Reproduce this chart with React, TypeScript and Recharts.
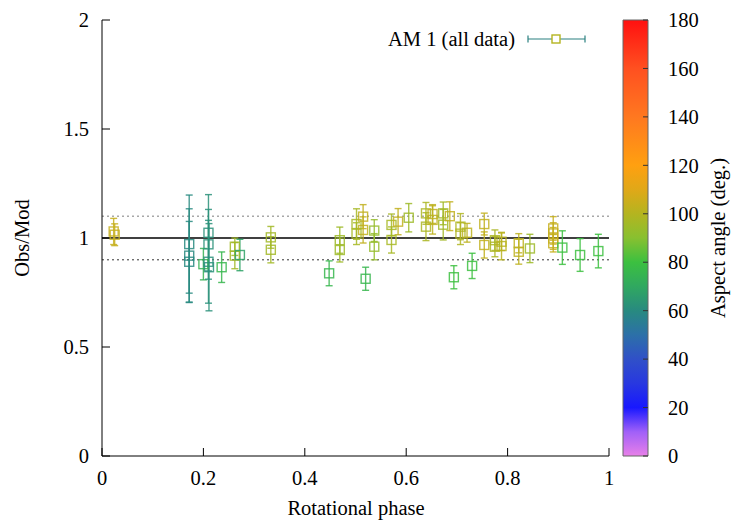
import React from "react"
import {
  ScatterChart,
  Scatter,
  XAxis,
  YAxis,
  ErrorBar,
  ReferenceLine,
  BarChart,
  Bar,
  Legend,
} from "recharts"

const FONT = "Liberation Serif"
const FS = 20.5

// rotational phase, Obs/Mod ratio, 1-sigma error, aspect angle (deg.)
const phase = [
  0.023, 0.025, 0.172, 0.172, 0.172, 0.2, 0.21, 0.21, 0.21, 0.211, 0.236, 0.262,
  0.262, 0.272, 0.333, 0.333, 0.448, 0.469, 0.469, 0.502, 0.502, 0.515, 0.515,
  0.52, 0.537, 0.537, 0.571, 0.571, 0.584, 0.605, 0.639, 0.639, 0.652, 0.652,
  0.673, 0.673, 0.686, 0.694, 0.707, 0.707, 0.72, 0.73, 0.754, 0.754, 0.775,
  0.775, 0.788, 0.788, 0.822, 0.822, 0.844, 0.89, 0.89, 0.89, 0.89, 0.908,
  0.943, 0.979,
]
const ratio = [
  1.03, 1.015, 0.972, 0.919, 0.891, 0.88, 1.024, 0.971, 0.891, 0.866, 0.866, 0.96,
  0.919, 0.922, 1.003, 0.946, 0.838, 0.99, 0.945, 1.064, 1.02, 1.098, 1.037,
  0.813, 1.034, 0.96, 1.06, 0.991, 1.075, 1.093, 1.113, 1.052, 1.11, 1.083,
  1.113, 1.061, 1.1, 0.82, 1.052, 1.02, 1.024, 0.872, 1.064, 0.968, 0.99,
  0.96, 0.983, 0.963, 0.976, 0.937, 0.952, 1.044, 1.021, 0.998, 0.976, 0.956,
  0.922, 0.94,
]
const err = [
  0.06, 0.05, 0.225, 0.215, 0.185, 0.072, 0.175, 0.16, 0.19, 0.2, 0.07, 0.04,
  0.06, 0.072, 0.05, 0.06, 0.057, 0.06, 0.055, 0.07, 0.05, 0.055, 0.06,
  0.053, 0.05, 0.06, 0.05, 0.06, 0.06, 0.065, 0.05, 0.064, 0.043, 0.065,
  0.052, 0.07, 0.066, 0.053, 0.06, 0.05, 0.043, 0.058, 0.05, 0.06, 0.047,
  0.046, 0.04, 0.063, 0.044, 0.057, 0.065, 0.054, 0.049, 0.05, 0.04, 0.077,
  0.075, 0.077,
]
const aspect = [
  104, 104, 60, 60, 60, 74, 62, 62, 62, 62, 76, 96,
  96, 68, 96, 96, 76, 95, 95, 97, 97, 103, 103,
  76, 93, 93, 97, 97, 103, 95, 98, 98, 102, 102,
  96, 96, 103, 80, 99, 99, 102, 80, 103, 103, 98,
  98, 101, 101, 102, 102, 95, 104, 104, 104, 104, 80,
  80, 80,
]

const xTicks = [0, 0.2, 0.4, 0.6, 0.8, 1]
const yTicks = [0, 0.5, 1, 1.5, 2]
const cbTicks = [0, 20, 40, 60, 80, 100, 120, 140, 160, 180]

// colour palette of the aspect-angle bar
const cbStops: [number, string][] = [
  [0, "#e880e8"],
  [10, "#a060f8"],
  [20, "#1818ff"],
  [30, "#2838e0"],
  [40, "#3050c8"],
  [50, "#2c70a8"],
  [60, "#288a80"],
  [70, "#30a860"],
  [80, "#3cc040"],
  [90, "#88c030"],
  [100, "#b4b420"],
  [110, "#e0a818"],
  [120, "#ffa010"],
  [140, "#ff7820"],
  [160, "#ff5020"],
  [180, "#ff1010"],
]

function hex(c: string) {
  return [1, 3, 5].map((i) => parseInt(c.slice(i, i + 2), 16))
}

function aspectColor(a: number) {
  for (let i = 1; i < cbStops.length; i++) {
    const [v0, c0] = cbStops[i - 1]
    const [v1, c1] = cbStops[i]
    if (a <= v1) {
      const t = (a - v0) / (v1 - v0)
      const p = hex(c0)
      const q = hex(c1)
      const m = p.map((v, k) => Math.round(v + (q[k] - v) * t))
      return `rgb(${m[0]},${m[1]},${m[2]})`
    }
  }
  return cbStops[cbStops.length - 1][1]
}

const points = phase.map((x, i) => ({ x, y: ratio[i], err: err[i], a: aspect[i] }))
const groups = Array.from(new Set(aspect)).map((a) => ({
  a,
  color: aspectColor(a),
  data: points.filter((d) => d.a === a),
}))

const tickStyle = { fill: "#000", fontSize: FS, fontFamily: FONT, style: { fontFamily: FONT } }

function LegendBox() {
  return (
    <svg width={240} height={30} style={{ display: "block" }}>
      <text x={135} y={21} textAnchor="end" fontSize={FS} fontFamily={FONT} fill="#000">
        AM 1 (all data)
      </text>
      <line x1={148} y1={14} x2={205} y2={14} stroke="#2a8080" strokeWidth={1.2} />
      <line x1={148} y1={10.5} x2={148} y2={17.5} stroke="#2a8080" strokeWidth={1.2} />
      <line x1={205} y1={10.5} x2={205} y2={17.5} stroke="#2a8080" strokeWidth={1.2} />
      <rect x={172} y={10} width={8} height={8} fill="#fff" stroke="#b4b420" strokeWidth={1.4} />
    </svg>
  )
}

function Title({ x, y, angle, children }: { x: number; y: number; angle?: number; children: string }) {
  return (
    <text
      x={x}
      y={y}
      transform={angle ? `rotate(${angle}, ${x}, ${y})` : undefined}
      textAnchor="middle"
      dominantBaseline="central"
      fontSize={FS}
      fontFamily={FONT}
      style={{ fontFamily: FONT }}
      fill="#000"
    >
      {children}
    </text>
  )
}

export default function App() {
  return (
    <div style={{ position: "absolute", left: 0, top: 0, width: 747, height: 523, background: "#fff", fontFamily: FONT }}>
      <div style={{ position: "absolute", left: 0, top: 0 }}>
        <ScatterChart
          width={747}
          height={523}
          margin={{ top: 20, right: 138, bottom: 27, left: 42 }}
        >
          <XAxis
            type="number"
            dataKey="x"
            domain={[0, 1]}
            ticks={xTicks}
            height={40}
            tickSize={-8}
            tickMargin={22}
            tick={tickStyle}
            axisLine={{ stroke: "#000" }}
            tickLine={{ stroke: "#000" }}
            label={() => <Title x={356} y={508}>Rotational phase</Title>}
          />
          <XAxis
            xAxisId="top"
            type="number"
            orientation="top"
            domain={[0, 1]}
            ticks={xTicks}
            height={0}
            tickSize={-8}
            tick={false}
            axisLine={{ stroke: "#000" }}
            tickLine={{ stroke: "#000" }}
          />
          <YAxis
            type="number"
            dataKey="y"
            domain={[0, 2]}
            ticks={yTicks}
            width={60}
            tickSize={-8}
            tickMargin={21}
            tick={tickStyle}
            axisLine={{ stroke: "#000" }}
            tickLine={{ stroke: "#000" }}
            label={() => <Title x={22} y={238} angle={-90}>Obs/Mod</Title>}
          />
          <YAxis
            yAxisId="right"
            type="number"
            orientation="right"
            domain={[0, 2]}
            ticks={yTicks}
            width={0}
            tickSize={-8}
            tick={false}
            axisLine={{ stroke: "#000" }}
            tickLine={{ stroke: "#000" }}
          />
          <ReferenceLine y={1.1} stroke="#a8a8a8" strokeWidth={1.6} strokeDasharray="2 3" />
          <ReferenceLine y={0.9} stroke="#333" strokeWidth={1} strokeDasharray="2 3" />
          <ReferenceLine y={1} stroke="#000" strokeWidth={1.3} />
          <Legend
            layout="horizontal"
            verticalAlign="middle"
            align="center"
            wrapperStyle={{ position: "absolute", left: 380, top: 25, width: 240 }}
            content={() => <LegendBox />}
          />
          {groups.map((g) => (
            <Scatter
              key={g.a}
              name={`aspect ${g.a}`}
              data={g.data}
              isAnimationActive={false}
              legendType="none"
              shape={(p: any) => (
                <rect
                  x={p.cx - 4.5}
                  y={p.cy - 4.5}
                  width={9}
                  height={9}
                  fill="none"
                  stroke={g.color}
                  strokeOpacity={0.85}
                  strokeWidth={1.4}
                />
              )}
            >
              <ErrorBar
                dataKey="err"
                direction="y"
                width={3.5}
                stroke={g.color}
                strokeOpacity={0.85}
                strokeWidth={1.4}
                isAnimationActive={false}
              />
            </Scatter>
          ))}
        </ScatterChart>
      </div>
      <div style={{ position: "absolute", left: 600, top: 0 }}>
        <BarChart
          width={147}
          height={523}
          data={[{ name: "aspect", v: 180 }]}
          margin={{ top: 20, right: 29, bottom: 67, left: 22 }}
          barCategoryGap={0}
        >
          <defs>
            <linearGradient id="cbGrad" x1="0" y1="1" x2="0" y2="0">
              {cbStops.map(([v, c]) => (
                <stop key={v} offset={`${(v / 180) * 100}%`} stopColor={c} />
              ))}
            </linearGradient>
          </defs>
          <XAxis dataKey="name" hide />
          <YAxis
            yAxisId="l"
            type="number"
            domain={[0, 180]}
            ticks={cbTicks}
            width={1}
            tickSize={-5}
            tick={false}
            axisLine={false}
            tickLine={{ stroke: "#333" }}
          />
          <YAxis
            yAxisId="r"
            orientation="right"
            type="number"
            domain={[0, 180]}
            ticks={cbTicks}
            width={70}
            tickSize={-5}
            tickMargin={25}
            tick={tickStyle}
            axisLine={false}
            tickLine={{ stroke: "#333" }}
            label={() => <Title x={118} y={238} angle={-90}>Aspect angle (deg.)</Title>}
          />
          <Bar
            yAxisId="r"
            dataKey="v"
            fill="url(#cbGrad)"
            stroke="#666"
            strokeWidth={1}
            isAnimationActive={false}
          />
        </BarChart>
      </div>
    </div>
  )
}
